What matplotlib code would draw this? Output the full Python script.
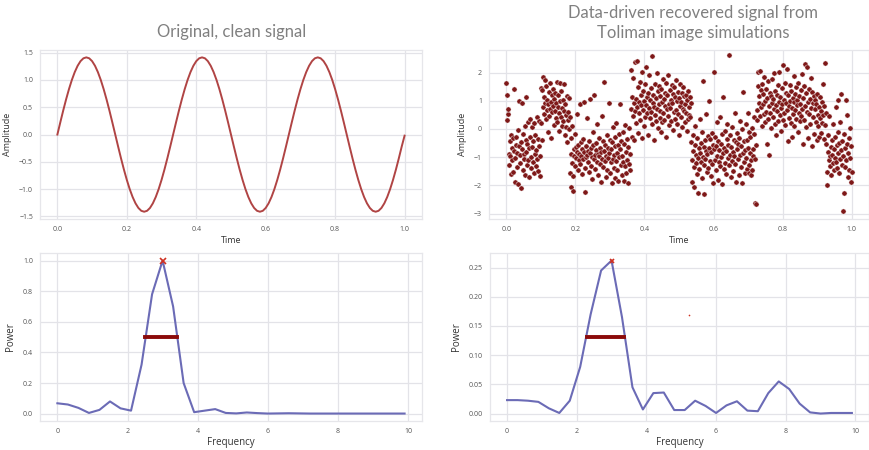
import matplotlib
matplotlib.use("Agg")
import matplotlib.pyplot as plt
import numpy as np

# clean signal, sampled at 121 points over one second
clean = [0.0, 0.221, 0.437, 0.642, 0.831, 1.0, 1.144, 1.26, 1.345, 1.397,
         1.414, 1.397, 1.345, 1.26, 1.144, 1.0, 0.831, 0.642, 0.437, 0.221,
         0.0, -0.221, -0.437, -0.642, -0.831, -1.0, -1.144, -1.26, -1.345, -1.397,
         -1.414, -1.397, -1.345, -1.26, -1.144, -1.0, -0.831, -0.642, -0.437, -0.221,
         0.0, 0.221, 0.437, 0.642, 0.831, 1.0, 1.144, 1.26, 1.345, 1.397,
         1.414, 1.397, 1.345, 1.26, 1.144, 1.0, 0.831, 0.642, 0.437, 0.221,
         0.0, -0.221, -0.437, -0.642, -0.831, -1.0, -1.144, -1.26, -1.345, -1.397,
         -1.414, -1.397, -1.345, -1.26, -1.144, -1.0, -0.831, -0.642, -0.437, -0.221,
         0.0, 0.221, 0.437, 0.642, 0.831, 1.0, 1.144, 1.26, 1.345, 1.397,
         1.414, 1.397, 1.345, 1.26, 1.144, 1.0, 0.831, 0.642, 0.437, 0.221,
         0.0, -0.221, -0.437, -0.642, -0.831, -1.0, -1.144, -1.26, -1.345, -1.397,
         -1.414, -1.397, -1.345, -1.26, -1.144, -1.0, -0.831, -0.642, -0.437, -0.221,
         -0.02]

# recovered signal, one list per half cycle (evenly sampled in time)
rec1 = [1.62, 0.31, 1.21, 0.52, 0.71, -0.88, -1.28, -0.42, -0.95, -1.61,
        -0.23, -0.67, -1.12, -0.31, -1.53, -0.78, 1.41, -1.02, -1.88, -0.56,
        -0.29, -1.35, -0.84, -0.05, -1.97, -0.61, 0.98, -1.21, -0.93, -2.08,
        -0.47, 0.91, -0.72, -1.44, -0.18, -0.89, -1.06, 0.12, -1.62, -0.38,
        -0.81, 1.12, -1.27, -0.54, 0.26, -1.12, -0.69, -1.71, -0.27, 0.34,
        -0.98, -1.39, 0.08, -0.63, -1.18, -0.43, 0.21, -1.55, -0.88, -0.21,
        -1.31, -0.74, 0.41, -1.08, -0.36, -1.49, 0.29, -0.62, -0.97, -1.68]
rec2 = [1.45, 0.21, 1.38, -0.41, 0.76, 1.85, 0.52, 1.12, 0.93, 1.74,
        0.34, 1.51, 0.68, 1.02, -0.12, 0.88, 1.31, 0.45, 1.62, 0.71,
        0.97, -0.32, 1.19, 0.59, 1.43, 0.83, 0.14, 1.07, 0.62, 1.28,
        0.38, 0.91, 1.66, 0.25, 0.79, 1.21, -0.08, 0.55, 1.63, 0.99,
        0.42, 1.35, 0.11, 0.74, 1.04, 0.28, 1.58, 0.63, -0.21, 0.87,
        0.05, 0.48, 1.15, -0.45, 0.31, 0.61]
rec3 = [1.08, -0.02, -1.56, 0.41, -0.88, -2.05, -0.31, -1.21, 0.12, -1.68,
        -2.21, -0.72, -0.95, -0.18, -1.33, -0.64, -1.02, 0.53, -0.81, -1.47,
        -0.56, -1.12, -0.89, 0.87, -1.25, -0.48, -0.97, -1.61, -0.71, -0.36,
        -1.08, -0.83, 0.95, -1.39, -2.22, -0.62, -1.01, -0.91, 0.38, -1.18,
        -0.77, -1.52, -0.44, -0.86, 1.05, -1.31, -0.69, -0.99, -1.78, -0.58,
        -0.12, -1.07, 1.21, -0.93, -1.41, -0.74, -0.51, -1.16, 0.18, -0.88,
        -1.62, -0.97, -0.33, -1.24, -0.66, -1.89, -0.81, 0.47, -1.05, -0.43,
        -1.34, 1.68, -0.79, -1.13, -0.58, -1.71, -0.95, -0.21, -1.44, -0.69,
        -1.02, 0.91, -0.86, -1.55, -0.38, -1.19, -0.73, -1.91, -0.48, -1.08,
        0.06, -0.92, -1.37, -0.61, -1.73, -0.27, -1.15, 0.21, -0.84, -1.46,
        -0.57, -1.83, -0.19, -1.01, 0.88, -0.72, -1.28, -0.42, -1.64, -0.96,
        -0.11, -1.19, -1.86, -0.53, 0.15, -1.32, -0.81, -1.58, -0.37, -1.11,
        -1.91, -0.64, -1.23, 0.02, -0.89, -1.47]
rec4 = [0.72, 2.08, -0.28, 1.12, 0.45, 1.81, 0.91, -0.41, 0.63, 2.38,
        1.05, 0.22, 2.42, 0.78, 1.47, -0.15, 0.96, 0.55, 1.68, 0.31,
        1.21, 0.84, 2.01, -0.34, 0.67, 1.36, 0.12, 0.99, 1.58, 0.42,
        0.86, 2.21, 1.14, 0.58, -0.22, 1.29, 0.74, 1.92, 0.37, 1.03,
        0.61, 1.44, 2.58, 0.18, 0.93, 1.22, -0.38, 0.79, 1.61, 0.49,
        1.09, 0.27, 1.98, 0.71, 1.33, 0.04, 0.88, 1.52, 0.39, 1.17,
        0.64, -0.11, 1.41, 0.97, 0.23, 1.76, 0.56, 1.07, 0.33, 1.26,
        0.81, 1.63, -0.27, 0.69, 1.19, 0.45, 1.91, 0.87, 0.13, 1.38,
        0.75, 1.02, 0.28, 1.55, 0.92, -0.05, 1.24, 0.59, 1.47, 0.36,
        1.13, 0.67, 1.74, 0.19, 0.98, 1.31, 0.52, -0.21, 1.08, 0.83,
        1.58, 0.44, 0.95, 1.27, 0.08, 0.71, 1.49, 0.62, 1.16, 0.26,
        0.89, 1.22, 0.57, -0.09, 1.03, 0.35, 1.36, 0.76, 0.48, 1.12,
        0.41, 0.92]
rec5 = [-0.45, -1.12, -1.88, -0.21, -0.79, -2.05, -1.36, -0.58, 0.11, -1.21,
        -0.92, -1.61, -0.33, -1.02, -2.28, -0.67, -1.43, 0.34, -0.85, -1.18,
        -0.51, -1.74, -0.12, -0.98, 1.71, -1.29, -0.63, -2.31, -0.41, -1.06,
        -0.77, 0.52, -1.53, -0.89, -0.24, -1.38, -0.69, 0.98, -1.14, -0.36,
        -1.67, -0.82, -0.15, -1.25, -0.56, -1.93, 2.02, -0.71, -1.09, -0.29,
        -1.46, -0.61, 0.24, -0.95, -1.81, -0.43, -1.17, -0.74, 0.41, -1.33,
        -0.52, -1.01, -1.96, -0.18, -0.87, 1.12, -1.42, -0.66, -0.08, -1.22,
        -0.79, -1.59, -0.35, 0.16, -1.04, -0.57, -1.28, 2.61, -0.91, -0.23,
        -1.71, -0.64, -1.13, 0.07, -0.82, -1.48, -0.39, -0.97, 0.58, -1.26,
        -0.48, -1.88, -0.71, -0.14, -1.07, -0.55, -1.62, -0.31, 0.29, -0.93,
        -1.35, -0.61, -1.92, -0.02, -0.84, 1.31, -1.19, -0.44, -1.56, -0.76,
        0.18, -1.03, -0.38, -1.41, -0.67, 0.55, -1.27, -0.12, -1.58, -0.86,
        -0.27, -1.11, -1.64, 0.02, -1.47, -0.73, -0.95, -0.19, 0.41, -1.05,
        -2.64, -0.58, -2.65]
rec6 = [0.68, 0.31, 1.52, 2.02, 0.93, 1.18, 0.45, 2.06, 1.37, 0.77,
        0.12, 1.61, 0.88, 1.24, 0.53, 1.83, 0.24, 0.99, 1.42, 0.61,
        -0.52, 1.08, 0.36, 1.71, 0.82, -0.94, 1.29, 0.57, 1.15, 0.03,
        0.91, 1.77, 0.43, 1.06, 0.71, 1.98, 0.19, 1.33, 0.85, -0.21,
        1.21, 0.62, 1.54, 0.28, 0.97, 2.03, 0.49, 1.12, 0.74, -0.08,
        1.46, 0.89, 0.33, 2.27, 1.01, 0.56, 1.64, 0.15, 0.92, 1.28,
        0.67, 2.11, -0.43, 1.19, 0.81, 0.39, 1.57, 0.98, 0.21, 1.35,
        0.73, -0.28, 1.09, 0.52, 1.86, 0.94, 0.11, 1.23, 0.66, 1.47,
        0.35, 1.03, 0.84, -0.12, 1.62, 0.58, 1.17, 0.27, 0.89, 1.39,
        0.47, 1.94, 0.72, -0.55, 1.11, 0.31, 1.51, 0.83, 2.29, 0.07,
        1.26, 0.61, 2.21, 0.96, -0.33, 1.41, 0.54, 1.07, 0.18, 1.79,
        0.75, 1.32, -0.62, 0.93, 0.42, 1.15, -0.19, 0.69, 1.02, 0.26,
        0.87, -0.41, 1.24, 0.51, 0.09, 0.78, -0.27, 1.12, 0.38, 0.64,
        -0.15, 0.95, 0.22, 1.61, 0.48, -0.36, 0.81, 0.13, 2.33, 0.57]
rec7 = [-0.52, -1.54, -1.98, -0.83, -0.21, -1.12, 0.47, -0.95, -1.31, -0.64,
        -1.62, -0.38, -0.91, -1.22, 0.18, -0.71, -1.45, -1.03, -0.27, 0.79,
        -1.17, -0.58, -1.39, 1.04, -0.86, -0.12, -1.58, -0.49, 0.23, -1.08,
        -0.76, 1.24, -1.27, -0.44, -2.91, -0.97, -0.19, -2.26, -1.35, -0.68,
        1.02, -1.12, -0.55, 0.51, -1.71, -0.87, -0.33, -1.46, -1.02, 0.04,
        -1.88, -0.61, -1.53]

freq = [0.0, 0.3, 0.6, 0.9, 1.2, 1.5, 1.8, 2.1, 2.4, 2.7, 3.0, 3.3,
        3.6, 3.9, 4.2, 4.5, 4.8, 5.1, 5.4, 5.7, 6.0, 6.3, 6.6, 6.9,
        7.2, 7.5, 7.8, 8.1, 8.4, 8.7, 9.0, 9.3, 9.6, 9.9]
power_clean = [0.068, 0.060, 0.038, 0.005, 0.025, 0.080, 0.035, 0.020, 0.32, 0.78,
               1.00, 0.70, 0.20, 0.010, 0.020, 0.030, 0.005, 0.002, 0.008, 0.004,
               0.001, 0.002, 0.003, 0.002, 0.001, 0.001, 0.001, 0.001, 0.001, 0.001,
               0.001, 0.001, 0.001, 0.001]
power_rec = [0.023, 0.023, 0.022, 0.020, 0.009, 0.001, 0.022, 0.080, 0.170, 0.245,
             0.262, 0.165, 0.045, 0.007, 0.035, 0.036, 0.006, 0.006, 0.022, 0.013,
             0.001, 0.014, 0.021, 0.005, 0.004, 0.035, 0.055, 0.042, 0.017, 0.002,
             0.000, 0.001, 0.001, 0.001]

# peak and half-maximum width
peak_clean = (3.0, 1.0)
fwhm_clean = (2.5, 3.41, 0.5)
peak_rec = (3.0, 0.262)
fwhm_rec = (2.3, 3.37, 0.131)
stray = (5.23, 0.168)

recovered = np.concatenate([rec1, rec2, rec3, rec4, rec5, rec6, rec7])
t_rec = np.linspace(0, 1, len(recovered))
t_clean = np.linspace(0, 1, len(clean))

plt.rcParams['font.family'] = ['Open Sans', 'DejaVu Sans']

fig = plt.figure(figsize=(8.7, 4.5), dpi=100)
ax1 = fig.add_axes([0.046, 0.513, 0.439, 0.376])
ax2 = fig.add_axes([0.562, 0.513, 0.437, 0.376])
ax3 = fig.add_axes([0.046, 0.064, 0.439, 0.374])
ax4 = fig.add_axes([0.563, 0.064, 0.436, 0.374])

grid_c = '#e3e3e8'
for ax in (ax1, ax2, ax3, ax4):
    ax.set_facecolor('white')
    ax.grid(True, color=grid_c, linewidth=0.9)
    ax.set_axisbelow(True)
    for s in ax.spines.values():
        s.set_color('#e6e6ea')
        s.set_linewidth(0.9)
    ax.tick_params(length=0, labelsize=5, colors='#555555', pad=5)

ax1.plot(t_clean, clean, color='#b04444', lw=1.4)
ax1.set_xlim(-0.05, 1.05)
ax1.set_ylim(-1.55, 1.55)
ax1.set_yticks([-1.5, -1.0, -0.5, 0.0, 0.5, 1.0, 1.5])
ax1.set_xticks([0.0, 0.2, 0.4, 0.6, 0.8, 1.0])
ax1.set_xlabel('Time', fontsize=6.5, color='#333333', labelpad=2)
ax1.set_ylabel('Amplitude', fontsize=6.5, color='#333333', labelpad=5)

ax2.scatter(t_rec, recovered, s=14, color='#7e1818', edgecolors='white', linewidths=0.3)
ax2.set_xlim(-0.05, 1.05)
ax2.set_ylim(-3.2, 2.8)
ax2.set_yticks([-3, -2, -1, 0, 1, 2])
ax2.set_xticks([0.0, 0.2, 0.4, 0.6, 0.8, 1.0])
ax2.set_xlabel('Time', fontsize=6.5, color='#333333', labelpad=2)
ax2.set_ylabel('Amplitude', fontsize=6.5, color='#333333', labelpad=5)

line_c = '#6b6bb6'
ax3.plot(freq, power_clean, color=line_c, lw=1.5)
ax3.plot([fwhm_clean[0], fwhm_clean[1]], [fwhm_clean[2]] * 2, color='#8b0a0a', lw=2.8)
ax3.plot(*peak_clean, marker='x', color='#d03020', ms=4, mew=1.2)
ax3.set_xticks([0, 2, 4, 6, 8, 10])
ax3.set_yticks([0.0, 0.2, 0.4, 0.6, 0.8, 1.0])
ax3.set_xlabel('Frequency', fontsize=7, color='#333333', labelpad=1)
ax3.set_ylabel('Power', fontsize=7, color='#333333', labelpad=5)

ax4.plot(freq, power_rec, color=line_c, lw=1.5)
ax4.plot([fwhm_rec[0], fwhm_rec[1]], [fwhm_rec[2]] * 2, color='#8b0a0a', lw=2.8)
ax4.plot(*peak_rec, marker='x', color='#d03020', ms=3, mew=1.2)
ax4.plot(*stray, marker='o', color='#d03020', ms=1.2, mew=0)
ax4.set_xticks([0, 2, 4, 6, 8, 10])
ax4.set_yticks([0.00, 0.05, 0.10, 0.15, 0.20, 0.25])
ax4.set_yticklabels(['0.00', '0.05', '0.10', '0.15', '0.20', '0.25'])
ax4.set_xlabel('Frequency', fontsize=7, color='#333333', labelpad=1)
ax4.set_ylabel('Power', fontsize=7, color='#333333', labelpad=5)

fig.text(0.266, 0.929, 'Original, clean signal', ha='center', va='center',
         fontsize=12, color='#808080', family=['Lato', 'DejaVu Sans'])
fig.text(0.797, 0.948, 'Data-driven recovered signal from\nToliman image simulations',
         ha='center', va='center', fontsize=12, color='#808080', linespacing=1.3,
         family=['Lato', 'DejaVu Sans'])

fig.savefig('out.png', dpi=100)
